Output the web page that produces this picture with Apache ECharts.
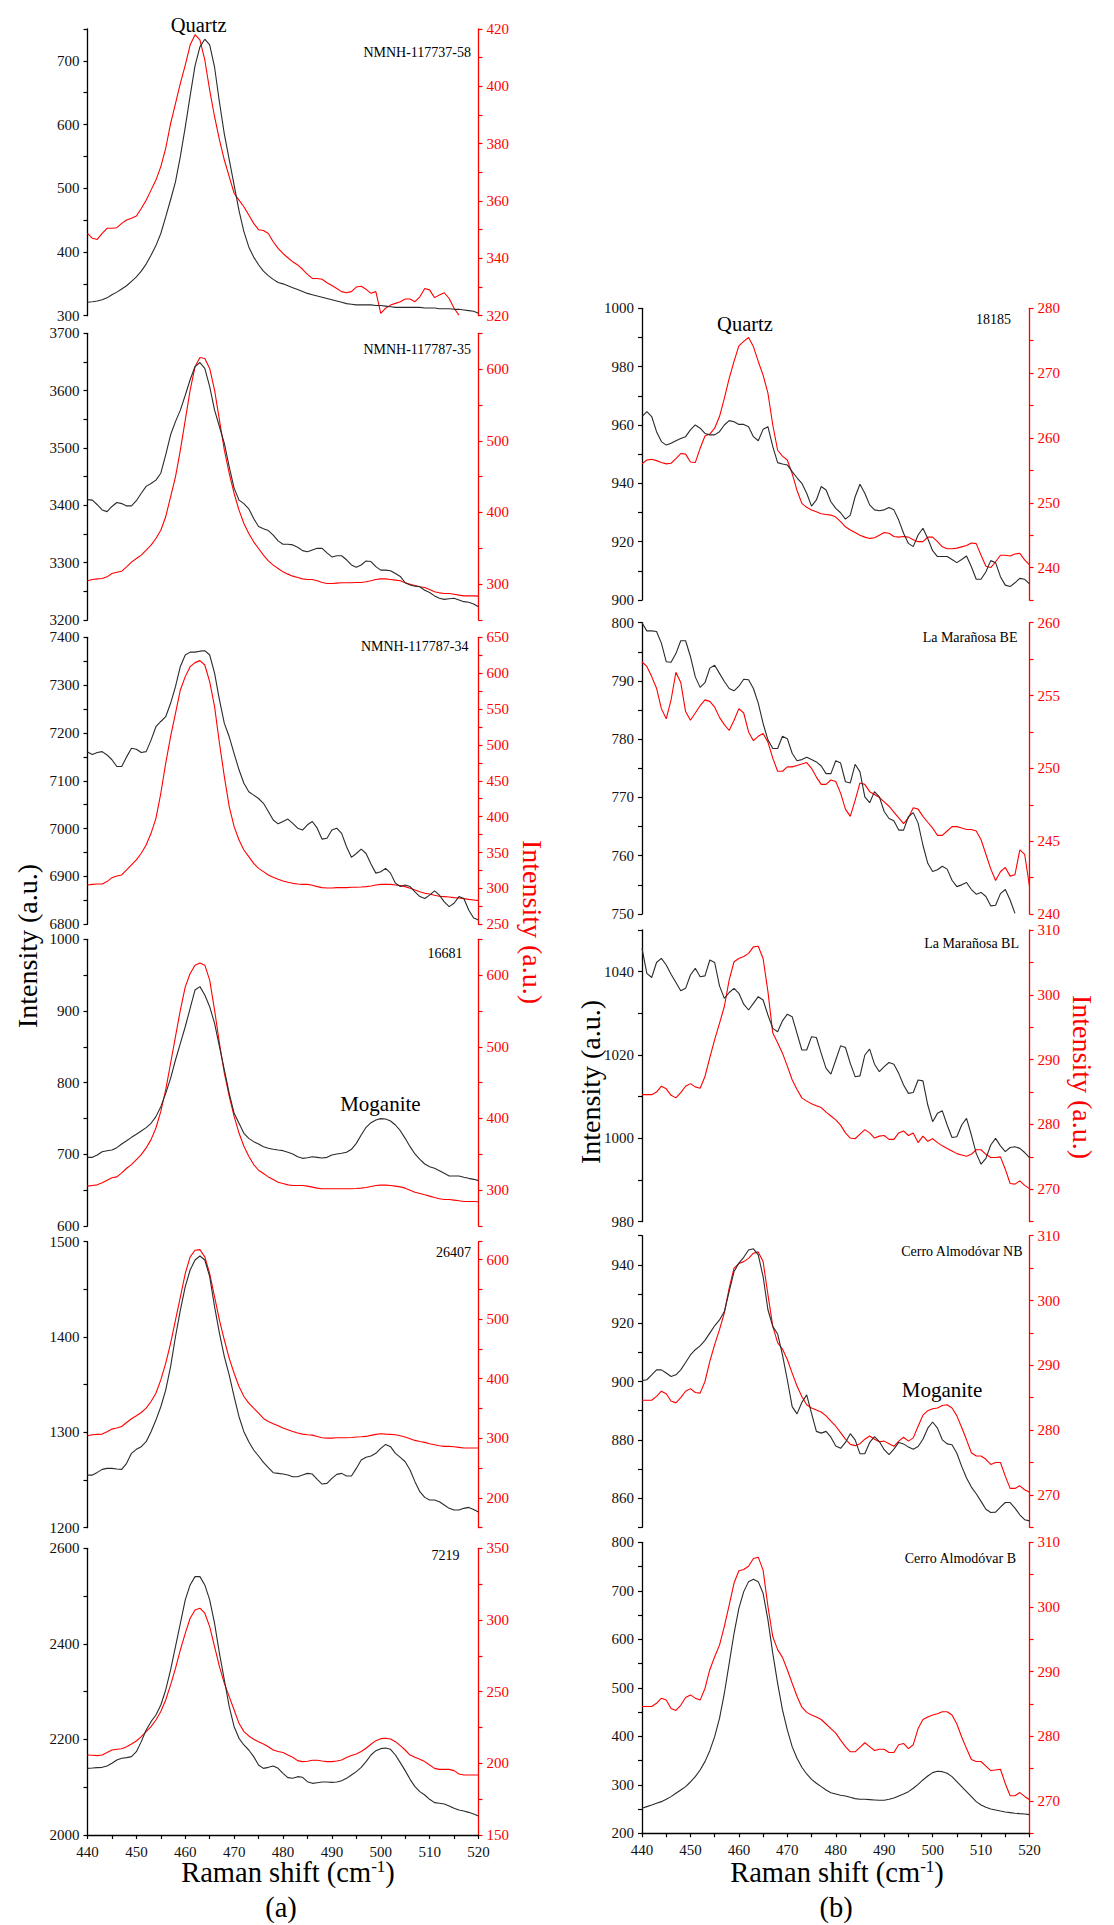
<!DOCTYPE html>
<html>
<head>
<meta charset="utf-8">
<script src="https://cdn.jsdelivr.net/npm/echarts@6/dist/echarts.min.js"></script>
<style>
  html, body { margin: 0; padding: 0; background: #fff; }
  #chart { width: 1114px; height: 1925px; }
</style>
</head>
<body>
<div id="chart"></div>
<script>
// Raman shift sampling (cm-1), shared by every spectrum
const ramanShift = [
  440,441,442,443,444,445,446,447,448,449,
  450,451,452,453,454,455,456,457,458,459,
  460,461,462,463,464,465,466,467,468,469,
  470,471,472,473,474,475,476,477,478,479,
  480,481,482,483,484,485,486,487,488,489,
  490,491,492,493,494,495,496,497,498,499,
  500,501,502,503,504,505,506,507,508,509,
  510,511,512,513,514,515,516,517,518,519,
  520
];

// ---- (a) column ----
const nmnh117737_58_left = [
  321,322,323,325,328,333,337,342,347,354,
  361,370,381,395,410,429,455,482,510,550,
  596,645,692,722,734,725,690,635,585,545,
  505,465,432,408,392,380,370,363,357,352,
  350,347,344,341,338,335,333,331,329,327,
  325,323,321,319,318,317,317,317,317,316,
  316,315,314,313,313,313,313,313,313,312,
  312,312,311,311,311,310,310,309,308,307,
  304
];
const nmnh117737_58_right = [
  348.7,347,346.6,348.7,350.5,350.5,350.7,352.2,353.4,354,
  354.8,357.4,360.3,363.8,367.3,372,378.4,387,394,401,
  407.4,414.4,418,416.2,409.2,398.7,389.4,381.3,374.3,368.5,
  362.7,360.3,358,355.1,352.2,350,349.7,348.7,345.8,343.5,
  341.7,340.2,338.8,337.7,336.2,334.4,333,333,332.7,331.5,
  330.5,329.5,328.4,328,328.4,330,330.3,329.2,327.8,328.4,
  320.8,322.6,323.7,324.3,324.9,325.8,325.8,324.9,326.6,329.5,
  329,326.3,327.2,328,326,322.6,320.2,null,null,null,
  null
];

const nmnh117787_35_left = [
  3410,3409,3401,3392,3389,3398,3405,3403,3399,3399,
  3408,3421,3433,3438,3444,3456,3488,3523,3546,3566,
  3592,3619,3642,3649,3639,3607,3566,3537,3508,3467,
  3430,3409,3403,3394,3377,3363,3359,3356,3348,3338,
  3332,3332,3331,3327,3321,3319,3322,3325,3325,3317,
  3310,3312,3312,3305,3296,3292,3296,3303,3302,3293,
  3287,3287,3286,3281,3276,3265,3261,3259,3258,3252,
  3248,3242,3238,3236,3237,3238,3235,3232,3231,3228,
  3223
];
const nmnh117787_35_right = [
  304.7,306.5,307.4,307.9,310.2,314.9,316.7,318.1,324.2,330.7,
  335.8,340.5,347.4,354.4,363.7,375.3,394,421.9,449.8,487,
  528.8,570.7,603.3,616.3,614.9,600.9,570.7,528.8,487,454.4,
  426.5,403.3,384.7,370.7,359.1,349.8,340.5,332.6,326.5,321.9,
  317.2,314,311.2,309.3,307.4,306.5,306.5,304.7,302.3,300.9,
  300.9,301.4,301.9,301.9,301.9,302.3,302.3,303.3,304.7,306.5,
  307.4,307.4,306.5,305.6,304.7,301.9,300,298.1,296.3,295.3,
  292.6,289.3,287.9,287,287,286,284.7,283.7,283.7,283.7,
  283.3
];

const nmnh117787_34_left = [
  7160,7155,7159,7161,7154,7144,7130,7130,7150,7168,
  7166,7159,7161,7185,7213,7224,7234,7262,7297,7339,
  7363,7369,7369,7371,7372,7363,7325,7269,7220,7192,
  7157,7123,7095,7077,7070,7063,7053,7036,7018,7010,
  7015,7020,7011,7001,6997,7008,7015,7001,6978,6980,
  6997,7001,6990,6962,6940,6948,6957,6948,6926,6907,
  6910,6917,6907,6886,6879,6882,6879,6868,6858,6854,
  6861,6870,6861,6847,6837,6844,6858,6854,6830,6813,
  6809
];
const nmnh117787_34_right = [
  304.8,305.7,306.2,306.2,309.5,315,317.4,318.8,325.7,332.7,
  339.7,349,360.6,376.8,397.7,432.6,474.4,511.6,544.1,576.6,
  595.2,609.1,614.7,617.5,611.4,588.2,553.4,502.3,455.8,414,
  386.1,367.5,353.6,344.3,335,328,323.4,318.8,315.5,312.7,
  310.4,308.5,307.1,306.2,305.7,305.7,304.4,302.5,301.1,300.6,
  300.6,301.1,301.1,301.1,301.6,301.6,302,302.5,303.4,304.8,
  305.7,305.7,305.7,304.8,303.9,302.5,300.2,297.9,295.5,293.2,
  292.3,290.4,289,288.6,288.1,287.2,286.7,285.8,284.8,283.9,
  283
];

const s16681_left = [
  695.8,695.8,699,703.7,705,706,709.3,714.4,719,723.7,
  728,732.6,737.2,743.3,752.6,766.5,785,806,831.6,854.9,
  878,903.7,929.3,934,922.3,906,882.8,850.2,817.7,785,
  757.2,743.3,729.3,722.3,717.7,714.4,710.7,708.4,707,706,
  705.1,702.8,700.5,696.7,694.4,695.3,696.7,695.8,694.9,695.8,
  699,700.5,701.4,702.8,707,715.3,727,737.7,744.2,747.9,
  749.8,749.3,746.5,740.9,733,722.3,710.7,700.5,693,686.5,
  682.8,680.5,677.2,673.5,669.8,669.8,669.8,668,666.5,665.1,
  663.3
];
const s16681_right = [
  305.6,306.5,307.4,310.2,313.9,317.2,318.5,324.1,330.6,335.7,
  342.7,349.6,358.9,370.5,386.7,409.9,440,477.1,514.2,551.3,
  583.7,602.3,613.9,617.1,613.9,593,551.3,504.9,463.2,430.7,
  402.9,379.7,361.2,347.3,335.7,327.8,323.2,318.5,314.8,311.1,
  309.3,307.4,306.5,306.5,306.5,305.6,304.2,302.8,301.9,301.9,
  301.9,301.9,301.9,301.9,301.9,302.3,302.8,303.7,305.1,306.5,
  307,307,306.5,305.6,304.6,302.8,300,297.2,295.4,293.5,
  291.7,289.8,288,287,287,286.1,285.2,284.2,284.2,284.2,
  283.8
];

const s26407_left = [
  1255.2,1255.2,1258,1261.2,1262.2,1262.2,1261.5,1261.2,1267.5,1278,
  1282.2,1285,1290.2,1300.7,1312.9,1326.9,1344.4,1368.9,1400.3,1428.3,
  1452.8,1470.3,1480.8,1485,1480.8,1463.3,1431.8,1403.8,1379.4,1360.1,
  1337.4,1316.4,1300.7,1290.2,1281.5,1275.2,1268.5,1262.9,1257.7,1257,
  1256.3,1255.2,1253.5,1253.5,1255.2,1257,1256.3,1250.7,1245.8,1246.5,
  1251.7,1255.9,1257,1254.2,1254.2,1262.2,1271,1273.8,1275.2,1278,
  1283.2,1287.4,1285,1278,1273.8,1269.2,1260.5,1248.3,1237.8,1231.8,
  1229,1229,1227.3,1223.8,1220.3,1218.5,1218.5,1220.3,1221.3,1219.2,
  1216.4
];
const s26407_right = [
  304.3,306,306.6,307.1,311,315.5,317.2,319.9,326.6,332.8,
  337.8,343.4,350.6,361.8,375.7,398,425.9,459.4,498.5,537.5,
  576.6,604.5,615.6,616.7,604.5,576.6,537.5,498.5,465,434.3,
  409.2,386.9,370.2,359,350.6,342.3,333.3,328.3,324.4,321.1,
  317.2,314.4,311.6,308.8,307.1,306,305.4,303.2,301,300.4,
  300.4,301,301,301,301.5,302.1,302.6,303.2,304.9,306.6,
  307.7,307.1,306.6,306,304.3,302.1,299.3,296.5,294.8,293.2,
  290.9,289.3,287.6,286.5,286.5,285.9,284.8,283.7,283.7,283.7,
  283.7
];

const s7219_left = [
  2139.5,2140.2,2141,2141.6,2144.4,2150,2157,2160.5,2161.9,2164,
  2174.4,2195.4,2219.8,2237.2,2251.2,2272.1,2303.5,2345.4,2394.2,2443,
  2491.9,2523.3,2540.7,2540.7,2523.3,2491.9,2443,2380.2,2324.4,2268.6,
  2226.7,2202.3,2188.4,2177.9,2164,2146.5,2139.5,2141.6,2144.4,2139.5,
  2129.1,2120,2118.6,2122.1,2120.7,2111.6,2108.1,2109.5,2110.9,2110.9,
  2110.2,2110.9,2113.7,2118.6,2125.6,2132.6,2141.6,2153.5,2167.4,2176.5,
  2180.7,2182.1,2179.3,2167.4,2151.4,2134.7,2116.5,2101.2,2090.7,2083.7,
  2074.7,2067.7,2066.3,2064.9,2060.7,2055.8,2052.3,2050.2,2047.4,2044,
  2039.8
];
const s7219_right = [
  205.8,205.6,205.4,205.8,207.5,209.3,209.8,210.2,211.6,213.5,
  215.6,218.6,222.1,225.6,230.2,236.1,244.2,254.7,266.3,279.1,
  290.7,301.2,307,308.2,304.7,295.4,281.4,267.5,255.8,246.5,
  237.2,227.9,222.1,219.1,216.8,215.1,213.5,211.6,209.3,208.2,
  207.5,205.8,204.2,201.9,201.2,201.4,202.1,202.1,201.6,201.2,
  201.2,201.6,202.3,204,205.4,206.5,208.2,210.5,213.3,215.8,
  217.2,217.5,217,215.1,212.3,209.3,205.8,204.2,202.8,201.2,
  198.8,196.5,195.8,195.8,195.8,194.9,192.6,191.9,191.9,191.9,
  191.9
];

// ---- (b) column ----
const s18185_left = [
  962.9,964.6,962.9,957.7,954.3,953.1,953.7,954.6,955.4,956,
  958.3,960,958.9,957.1,956.6,956.6,957.7,960,961.5,961.1,
  960.2,960.2,959.4,956,954.6,958.5,959.4,952.6,947.1,946.6,
  946.3,944,941.9,940,936.6,932.2,934.3,938.9,937.7,933.7,
  931.4,929.9,927.7,929.1,935.4,939.7,936.6,932.6,930.9,930.6,
  930.9,931.7,930.9,927.4,922.9,919.4,918.3,922.3,924.6,921.1,
  916.9,914.9,914.9,914.9,913.9,912.8,913.9,915.1,911.4,907.1,
  907.1,909.7,913.5,912.8,908,905.1,904.6,905.9,907.4,907.1,
  905.5
];
const s18185_right = [
  256,256.6,256.7,256.5,256.2,256,256.1,256.8,257.6,257.5,
  256.3,256.2,258.4,260.3,260.6,261.5,263.3,266.1,269.2,271.8,
  274.2,274.9,275.5,274.1,271.8,269.7,266.9,262,258.1,257.2,
  256.6,254.5,251.9,249.9,249.3,248.9,248.6,248.3,248.2,248.1,
  247.8,247.1,246.3,245.8,245.4,245,244.7,244.5,244.6,245,
  245.4,245.3,244.8,244.7,244.8,244.7,244.3,244,244,244.7,
  244.7,244,243.2,242.9,242.9,243,243.2,243.4,243.8,243.7,
  241.9,240.2,240,240.9,241.9,241.9,241.8,242.1,242.2,241.2,
  240.4
];

const laMaranosaBE_left = [
  800,798.6,798.6,798.5,796.5,793.3,793.2,794.7,796.9,796.9,
  794.2,790.7,788.9,789.7,792.2,792.7,791.3,789.9,788.7,788.3,
  789.1,790.3,790.2,788.7,786.2,782.7,779.9,778.4,778.4,780.5,
  780.1,777.6,776.3,776.5,776.9,776.5,776.1,775.4,774.1,774.1,
  776.3,775.9,772.7,772.5,775.7,774.4,770.1,769.1,771,770.1,
  767.6,766.4,766,764.4,764.4,766.7,767.4,765.6,761.8,758.7,
  757.3,757.6,758.2,757.7,755.8,754.7,755,755.4,754.2,753.4,
  753.7,753,751.4,751.5,753.5,754.2,752.4,750.1,null,null,
  null
];
const laMaranosaBE_right = [
  257.3,257,256.3,255.5,254.1,253.4,254.7,256.6,255.9,253.9,
  253.3,253.8,254.3,254.7,254.6,254.2,253.5,253,252.6,253.3,
  254.1,253.8,252.5,251.9,252.2,252.4,251.8,250.7,249.8,249.8,
  250.1,250.1,250.2,250.3,250.4,250,249.4,248.9,248.9,249.2,
  249.1,248.3,247.2,246.7,247.8,249,248.9,248.4,248.2,248,
  247.7,247.4,247,246.6,246.2,246.6,247.3,247.2,246.7,246.3,
  245.9,245.4,245.4,245.7,246,246,245.9,245.8,245.8,245.7,
  245.1,244.1,243.1,242.3,242.9,243.2,242.6,242.7,244.4,244.1,
  241.9
];

const laMaranosaBL_left = [
  1045.6,1039.6,1038.6,1042.2,1043.2,1041.6,1039.4,1037.4,1035.4,1036,
  1039.2,1040.8,1038.8,1039,1042.8,1042.2,1036.6,1033.6,1035,1036,
  1034.8,1032.2,1030.8,1032.4,1034,1033.2,1029.6,1026.4,1025.6,1028.2,
  1029.8,1029.2,1025.2,1021.2,1021.2,1024.4,1024.2,1020.4,1016.8,1015.4,
  1018.8,1022.2,1021.8,1018,1014.8,1015,1020,1021.4,1017.8,1016,
  1017.2,1018.2,1017.8,1015.6,1012.8,1010.8,1011,1014,1013.8,1008,
  1004,1006,1006.6,1003.2,1000.2,1000.4,1003.2,1004.8,1000.8,996.4,
  993.8,995.2,998.4,1000,998.2,996.8,997.8,998,997.6,996.6,
  995.4
];
const laMaranosaBL_right = [
  284.6,284.6,284.6,285,285.9,285.5,284.5,284.1,284.9,285.9,
  286.3,285.8,285.6,287.4,290.3,293.1,295.6,298.2,302.3,305.1,
  305.6,305.9,306.4,307.4,307.5,305.6,300.5,294.1,292.6,291,
  289,286.9,285.4,284.1,283.6,283.2,282.9,282.6,281.9,281.3,
  280.7,279.9,278.7,277.9,277.8,278.5,279.2,278.7,277.9,278.2,
  278.3,277.7,277.7,278.7,279,278.3,278.7,277.2,278.2,277.4,
  277.8,277.2,276.7,276.3,275.9,275.5,275.3,275.1,275.4,276.1,
  276.1,275.4,274.9,274.9,275,273.1,270.9,270.8,271.3,270.6,
  270.1
];

const cerroAlmodovarNB_left = [
  900.3,900.6,902.3,904,904,902.9,901.7,902.3,904,906.5,
  909.1,910.9,912.2,914.1,916.6,919.1,921.1,924,930.9,937.7,
  940.6,942.6,945.1,945.5,943.4,936,924.6,918.9,916.3,909.1,
  900.6,891.4,888.9,892.8,895.4,889.1,882.9,882.3,882.9,880.9,
  877.9,877.1,879.1,882.1,880,875.2,875.2,879.1,881.1,879.4,
  876.6,874.9,876.8,879.1,878.6,877.5,876.8,877.7,880.2,884,
  886.1,884,880,878.6,878.3,875.4,870.9,866.9,863.8,861.5,
  858.9,856.2,855.1,855.2,856.9,858.5,858.5,856.6,854.3,852.6,
  852.2
];
const cerroAlmodovarNB_right = [
  284.6,284.6,284.6,285.2,286,285.6,284.5,284.2,285,286,
  286.4,285.8,285.7,287.5,290.6,293.2,295.5,298.1,301.9,305,
  305.7,306,306.5,307.3,307.5,306,300.9,296,293.5,292.5,
  290.9,288.8,286.8,285.2,283.9,283.4,283.1,282.8,282.2,281.4,
  280.6,279.6,278.6,277.8,277.6,277.9,278.6,279.1,278.6,278.2,
  278.3,277.9,277.5,278.3,278.9,278.3,278.8,280.6,282.3,283,
  283.3,283.4,283.8,283.9,283.4,282.2,280.4,278.5,276.5,276,
  276,275.5,274.7,275,275,272.9,271,271,271.4,270.8,
  270.4
];

const cerroAlmodovarB_left = [
  251.5,255,258.4,261.9,265.3,270.1,275.6,282.5,289.3,296.2,
  305.8,316.8,330.6,347.8,370.4,399.3,437.1,488.7,550.5,612.4,
  663.9,698.3,718.9,723.7,718.9,694.8,639.9,571.1,509.3,454.3,
  413.1,378.7,354.6,336.1,322.3,311.3,303.1,296.2,289.3,283.8,
  281.1,278.4,277,274.2,271.5,270.1,270.1,269.4,268.7,268,
  268,270.1,272.9,277,281.1,285.9,292.8,301,310,318.2,
  325.1,327.8,327.1,323.7,316.8,306.5,296.2,285.9,275.6,265.3,
  258.4,253.6,250.2,248.1,246,244,242.6,241.2,240.5,239.9,
  238.5
];
const cerroAlmodovarB_right = [
  284.6,284.6,284.6,285.1,285.9,285.6,284.3,284,284.8,286,
  286.4,285.9,285.6,287.4,290.3,292.3,294.1,297,300.3,303.7,
  305.6,305.8,306.3,307.5,307.7,305.7,300.1,295.4,293.4,292.2,
  290.3,288.2,286.2,284.5,283.7,283.3,283,282.6,281.9,281.2,
  280.5,279.4,278.4,277.6,277.6,278.3,279,278.4,277.8,278,
  278,277.5,277.5,278.7,278.9,278.1,278.7,281.2,282.6,283,
  283.3,283.5,283.8,283.8,283.3,281.9,279.9,278.1,276.4,276.1,
  276.1,275.4,274.7,274.8,274.9,272.7,270.8,270.8,271.3,270.7,
  270.2
];

// Axis ranges per panel: [min, max, tick step, label step]
const axisRangesLeft = [
  [300, 750, 50, 100], [3200, 3700, 50, 100], [6800, 7400, 50, 100],
  [600, 1000, 50, 100], [1200, 1500, 50, 100], [2000, 2600, 100, 200],
  [900, 1000, 10, 20], [750, 800, 5, 10], [980, 1050, 10, 20],
  [850, 950, 10, 20], [200, 800, 50, 100]
];
const axisRangesRight = [
  [320, 420, 10, 20], [250, 650, 50, 100], [250, 650, 25, 50],
  [250, 650, 50, 100], [150, 630, 50, 100], [150, 350, 25, 50],
  [235, 280, 5, 10], [240, 260, 2.5, 5], [265, 310, 5, 10],
  [265, 310, 5, 10], [265, 310, 5, 10]
];
const shiftRange = [440, 520, 5, 10];

const sampleNames = [
  'NMNH-117737-58', 'NMNH-117787-35', 'NMNH-117787-34', '16681', '26407', '7219',
  '18185', 'La Marañosa BE', 'La Marañosa BL', 'Cerro Almodóvar NB', 'Cerro Almodóvar B'
];
const spectraLeft = [
  nmnh117737_58_left, nmnh117787_35_left, nmnh117787_34_left, s16681_left, s26407_left, s7219_left,
  s18185_left, laMaranosaBE_left, laMaranosaBL_left, cerroAlmodovarNB_left, cerroAlmodovarB_left
];
const spectraRight = [
  nmnh117737_58_right, nmnh117787_35_right, nmnh117787_34_right, s16681_right, s26407_right, s7219_right,
  s18185_right, laMaranosaBE_right, laMaranosaBL_right, cerroAlmodovarNB_right, cerroAlmodovarB_right
];

// Panel layout: column [left, width], rows [top, height], sample tag anchor (right edge, middle)
const COL_A = [87.5, 391];
const COL_B = [642, 387.5];
const layout = [
  { col: COL_A, y: [29, 286.7],     tag: [471, 52],     bottom: false },
  { col: COL_A, y: [333.3, 286.7],  tag: [471, 349],    bottom: false },
  { col: COL_A, y: [637.3, 287],    tag: [468.5, 646],  bottom: false },
  { col: COL_A, y: [939.3, 286.7],  tag: [462.5, 953],  bottom: false },
  { col: COL_A, y: [1241.7, 286],   tag: [471, 1252],   bottom: false },
  { col: COL_A, y: [1548.3, 286.7], tag: [459.5, 1555], bottom: true },
  { col: COL_B, y: [308.3, 291.7],  tag: [1011, 319],   bottom: false },
  { col: COL_B, y: [622.7, 291.3],  tag: [1017.5, 637], bottom: false },
  { col: COL_B, y: [930, 291.7],    tag: [1019, 943],   bottom: false },
  { col: COL_B, y: [1235.7, 291.6], tag: [1022.5, 1251], bottom: false },
  { col: COL_B, y: [1542.3, 291],   tag: [1016, 1558],  bottom: true }
];

const SERIF = "'Liberation Serif', 'Times New Roman', Times, serif";
const INK = '#000000';
const TRACE = '#2b2b2b';
const RED = '#ff0000';

function onStep(v, step) {
  const q = v / step;
  return Math.abs(q - Math.round(q)) < 1e-6;
}

function valueAxis(range, gridIndex, position, lineColor, textColor) {
  const [min, max, step, labelStep] = range;
  return {
    type: 'value', gridIndex, position, min, max, interval: step,
    axisLine: { show: true, onZero: false, lineStyle: { color: lineColor, width: 1.3 } },
    axisTick: { show: true, inside: false, length: 4, lineStyle: { color: lineColor, width: 1.2 } },
    axisLabel: {
      show: true, color: textColor, fontFamily: SERIF, fontSize: 15, margin: 8,
      formatter: v => (onStep(v, labelStep) ? String(v) : '')
    },
    splitLine: { show: false }
  };
}

const grid = [], xAxis = [], yAxis = [], series = [];
layout.forEach((p, i) => {
  grid.push({ left: p.col[0], top: p.y[0], width: p.col[1], height: p.y[1], containLabel: false });
  if (p.bottom) {
    const ax = valueAxis(shiftRange, i, 'bottom', INK, '#111');
    ax.axisLabel.margin = 9;
    xAxis.push(ax);
  } else {
    xAxis.push({ type: 'value', gridIndex: i, min: shiftRange[0], max: shiftRange[1], show: false });
  }
  yAxis.push(valueAxis(axisRangesLeft[i], i, 'left', INK, '#111'));
  yAxis.push(valueAxis(axisRangesRight[i], i, 'right', RED, RED));
  series.push({
    type: 'line', name: sampleNames[i], xAxisIndex: i, yAxisIndex: 2 * i,
    data: ramanShift.map((x, k) => [x, spectraLeft[i][k]]),
    showSymbol: false, symbol: 'none', connectNulls: false, clip: true,
    lineStyle: { color: TRACE, width: 1.1 }, z: 3
  });
  series.push({
    type: 'line', name: sampleNames[i] + ' (red)', xAxisIndex: i, yAxisIndex: 2 * i + 1,
    data: ramanShift.map((x, k) => [x, spectraRight[i][k]]),
    showSymbol: false, symbol: 'none', connectNulls: false, clip: true,
    lineStyle: { color: RED, width: 1.1 }, z: 2
  });
});

function label(x, y, text, size, opts) {
  opts = opts || {};
  return {
    type: 'text', x, y, rotation: opts.rotation || 0, z: 10,
    style: {
      text, fill: opts.color || INK,
      fontSize: size, fontFamily: SERIF,
      align: opts.align || 'center', verticalAlign: 'middle',
      textAlign: opts.align || 'center', textVerticalAlign: 'middle'
    }
  };
}

function shiftTitle(x, y) {
  return {
    type: 'text', x, y, z: 10,
    style: {
      text: '{n|Raman shift (cm}{s|-1}{n|)}',
      align: 'center', verticalAlign: 'middle',
      textAlign: 'center', textVerticalAlign: 'middle',
      rich: {
        n: { fontSize: 28.5, fontFamily: SERIF, fill: INK, color: INK },
        s: { fontSize: 17, fontFamily: SERIF, fill: INK, color: INK, verticalAlign: 'top' }
      }
    }
  };
}

const graphic = [];
layout.forEach((p, i) => {
  graphic.push(label(p.tag[0], p.tag[1], sampleNames[i], 14, { align: 'right' }));
});
graphic.push(
  label(198.6, 25, 'Quartz', 20.5),
  label(745, 324, 'Quartz', 20.5),
  label(380.4, 1104, 'Moganite', 21),
  label(942, 1390, 'Moganite', 21),
  label(27, 946, 'Intensity (a.u.)', 28, { rotation: Math.PI / 2 }),
  label(532, 922, 'Intensity (a.u.)', 28, { rotation: -Math.PI / 2, color: RED }),
  label(590, 1082, 'Intensity (a.u.)', 28, { rotation: Math.PI / 2 }),
  label(1082, 1077, 'Intensity (a.u.)', 28, { rotation: -Math.PI / 2, color: RED }),
  shiftTitle(288, 1872),
  shiftTitle(837, 1872),
  label(281, 1907, '(a)', 28.5),
  label(836, 1907, '(b)', 28.5)
);

const chart = echarts.init(document.getElementById('chart'), null, { renderer: 'svg' });
chart.setOption({
  backgroundColor: '#ffffff',
  animation: false,
  grid, xAxis, yAxis, series, graphic
});
</script>
</body>
</html>
